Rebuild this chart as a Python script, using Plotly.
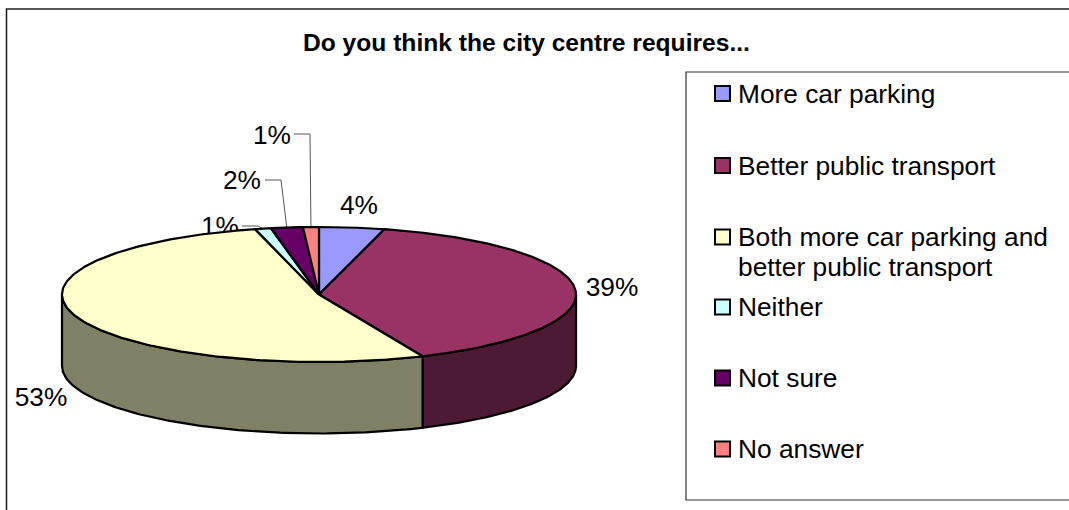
import numpy as np
import plotly.graph_objects as go

TITLE = "Do you think the city centre requires..."
categories = ["More car parking", "Better public transport",
              "Both more car parking and<br>better public transport",
              "Neither", "Not sure", "No answer"]
values = [4.1, 39.3, 52.6, 1, 2, 1]
labels = ["4%", "39%", "53%", "1%", "2%", "1%"]
colors = ["#9999FF", "#993366", "#FFFFCC", "#CCFFFF", "#660066", "#FF8080"]
wall_colors = ["#4D4D80", "#4D1A33", "#808066", "#668080", "#330033", "#804040"]

W, H = 1069, 510
CX, CY, RX, RY, DEPTH = 319, 294.5, 257, 67.5, 71.5
FONT = "Liberation Sans, Arial, sans-serif"
LABEL_SIZE = 26.3

# label centre position and leader-line elbow offsets (layout only)
label_pos = [(359, 207), (612, 289), (41, 399), (220, 228), (242, 182), (272, 137)]
leader_elbow = [None, None, None, [(242, 226), (258, 226)], [(265, 180), (281, 180)], [(294, 134), (310, 134)]]
legend_y = [93.5, 165.5, 237, 307, 378, 449]
LEGEND_LINE = 30


def ell(t, dy=0.0):
    return CX + RX * np.sin(t), CY - RY * np.cos(t) + dy


fig = go.Figure()


def poly(x, y, fill, width=2.2, color="black"):
    fig.add_trace(go.Scatter(x=list(x), y=list(y), mode="lines", fill="toself", fillcolor=fill,
                             line=dict(color=color, width=width), hoverinfo="skip", showlegend=False))


fracs = np.cumsum([0] + values) / sum(values)
starts = fracs[:-1] * 2 * np.pi
ends = fracs[1:] * 2 * np.pi

# data labels sit behind the pie (the reference's pie clips one of them)
fig.add_trace(go.Scatter(x=[p[0] for p in label_pos], y=[p[1] for p in label_pos], text=labels, mode="text",
                         textposition="middle center",
                         textfont=dict(family=FONT, size=LABEL_SIZE, color="black"),
                         hoverinfo="skip", showlegend=False))

# leader lines, anchored on each slice's middle
for s, e, elbow in zip(starts, ends, leader_elbow):
    if elbow is None:
        continue
    ax, ay = ell((s + e) / 2)
    xs = [p[0] for p in elbow] + [ax]
    ys = [p[1] for p in elbow] + [ay]
    fig.add_trace(go.Scatter(x=xs, y=ys, mode="lines", line=dict(color="#555555", width=1),
                             hoverinfo="skip", showlegend=False))

# side walls: only the front half of the ellipse is visible
for s, e, wc in zip(starts, ends, wall_colors):
    a, b = max(s, np.pi / 2), min(e, 1.5 * np.pi)
    if b <= a:
        continue
    t = np.linspace(a, b, 120)
    x1, y1 = ell(t)
    x2, y2 = ell(t[::-1], DEPTH)
    poly(np.r_[x1, x2, x1[0]], np.r_[y1, y2, y1[0]], wc)

# top faces
for s, e, c in zip(starts, ends, colors):
    t = np.linspace(s, e, 200)
    x, y = ell(t)
    poly(np.r_[CX, x, CX], np.r_[CY, y, CY], c)

# legend swatches
fig.add_trace(go.Scatter(x=[722.5] * len(categories), y=legend_y, mode="markers",
                         marker=dict(symbol="square", size=15, color=colors, line=dict(color="black", width=2)),
                         hoverinfo="skip", showlegend=False))

ann = []
for cat, y in zip(categories, legend_y):
    for i, line in enumerate(cat.split("<br>")):
        ann.append(dict(x=736, y=y + i * LEGEND_LINE, text=line, showarrow=False, xanchor="left", yanchor="middle",
                        align="left", font=dict(family=FONT, size=LABEL_SIZE, color="black")))
ann.append(dict(x=526.5, y=42, text="<b>" + TITLE + "</b>", showarrow=False, xanchor="center", yanchor="middle",
                font=dict(family=FONT, size=24.6, color="black")))

shapes = [
    dict(type="rect", x0=6.5, y0=9, x1=W + 20, y1=H + 20, line=dict(color="#222222", width=1.6), layer="below"),
    dict(type="rect", x0=686, y0=72, x1=W + 20, y1=500, line=dict(color="#333333", width=1.2), layer="below"),
]

fig.update_layout(width=W, height=H, margin=dict(l=0, r=0, t=0, b=0), paper_bgcolor="white", plot_bgcolor="white",
                  xaxis=dict(range=[0, W], visible=False, fixedrange=True),
                  yaxis=dict(range=[H, 0], visible=False, fixedrange=True),
                  annotations=ann, shapes=shapes, showlegend=False)
fig.write_html("out.html", config={"displayModeBar": False},
               post_script="document.body.style.margin='0';document.body.style.overflow='hidden';")
